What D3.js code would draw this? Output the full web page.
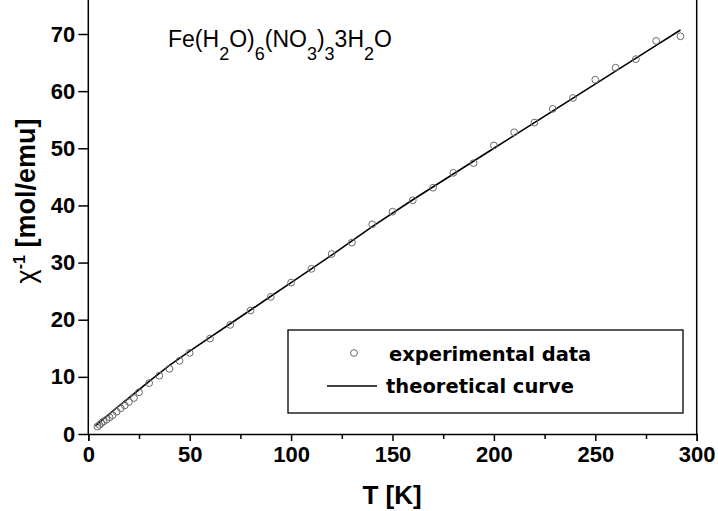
<!DOCTYPE html>
<html>
<head>
<meta charset="utf-8">
<script src="https://cdn.jsdelivr.net/npm/d3@7"></script>
<style>
  html, body { margin: 0; padding: 0; background: #fff; }
  svg { display: block; }
</style>
</head>
<body>
<svg id="chart" width="718" height="511"></svg>
<script>
// ---- data ----
const T_exp = [4.5, 5.5, 6.5, 7.5, 9, 10.5, 12, 14, 16, 18, 20, 22.5, 25, 30, 35, 40, 45, 50, 60, 70, 80, 90, 100, 110, 120, 130, 140, 150, 160, 170, 180, 190, 200, 210, 220, 229, 239, 250, 260, 270, 280, 292];
const chi_exp = [1.3, 1.6, 1.9, 2.2, 2.5, 2.9, 3.3, 3.9, 4.5, 5.0, 5.6, 6.3, 7.3, 8.9, 10.2, 11.4, 12.8, 14.2, 16.7, 19.1, 21.6, 24.0, 26.5, 28.9, 31.5, 33.5, 36.7, 38.9, 40.9, 43.1, 45.7, 47.4, 50.5, 52.8, 54.5, 56.9, 58.8, 62.0, 64.1, 65.6, 68.8, 69.6];
const T_theory = [3.5, 5, 10, 15, 20, 30, 40, 50, 60, 70, 80, 90, 100, 120, 140, 160, 180, 200, 220, 240, 260, 280, 292];
const chi_theory = [1.4, 1.9, 3.4, 4.9, 6.3, 9.2, 12.0, 14.5, 16.9, 19.3, 21.7, 24.1, 26.5, 31.3, 36.3, 41.0, 45.5, 50.0, 54.5, 59.0, 63.5, 68.0, 70.7];
const xTicks = [0, 50, 100, 150, 200, 250, 300];
const xMinorTicks = [25, 75, 125, 175, 225, 275];
const yTicks = [0, 10, 20, 30, 40, 50, 60, 70];
const legendLabels = ["experimental data", "theoretical curve"];

// ---- layout ----
const svg = d3.select("#chart");
const x = d3.scaleLinear().domain([0, 300]).range([88.3, 696.7]);
const y = d3.scaleLinear().domain([0, 70]).range([434, 34]);
const yTop = 0;

const tickFont = "'Liberation Sans', Arial, sans-serif";

// frame lines
svg.append("line").attr("x1", x(0)).attr("x2", x(0)).attr("y1", y(0)).attr("y2", yTop)
  .attr("stroke", "#000").attr("stroke-width", 1.5);
svg.append("line").attr("x1", x(300)).attr("x2", x(300)).attr("y1", y(0)).attr("y2", yTop)
  .attr("stroke", "#000").attr("stroke-width", 1.5);

// x axis
const gx = svg.append("g").attr("transform", `translate(0,${y(0)})`)
  .call(d3.axisBottom(x).tickValues(xTicks).tickSize(7).tickPadding(5).tickFormat(d3.format("d")));
gx.select(".domain").attr("stroke-width", 1.5);
gx.selectAll(".tick line").attr("stroke-width", 1.5);
gx.selectAll("text").attr("font-family", tickFont).attr("font-weight", "bold")
  .attr("font-size", 22).attr("fill", "#000");
svg.append("g").attr("transform", `translate(0,${y(0)})`)
  .call(d3.axisBottom(x).tickValues(xMinorTicks).tickSize(5).tickFormat(""))
  .call(g => g.select(".domain").remove())
  .selectAll(".tick line").attr("stroke-width", 1.5);

// y axis
const gy = svg.append("g").attr("transform", `translate(${x(0)},0)`)
  .call(d3.axisLeft(y).tickValues(yTicks).tickSize(10).tickPadding(3).tickFormat(d3.format("d")));
gy.select(".domain").remove();
gy.selectAll(".tick line").attr("stroke-width", 1.5);
gy.selectAll("text").attr("font-family", tickFont).attr("font-weight", "bold")
  .attr("font-size", 22).attr("fill", "#000");

// axis titles
svg.append("text").attr("x", 392).attr("y", 504).attr("text-anchor", "middle")
  .attr("font-family", tickFont).attr("font-weight", "bold").attr("font-size", 26)
  .text("T [K]");

const yt = svg.append("text").attr("transform", "translate(35,201) rotate(-90)")
  .attr("text-anchor", "middle").attr("font-family", tickFont).attr("font-weight", "bold")
  .attr("font-size", 27);
yt.append("tspan").attr("font-weight", "normal").text("χ");
yt.append("tspan").attr("font-size", 16).attr("dy", -10).text("-1");
yt.append("tspan").attr("dy", 10).text(" [mol/emu]");

// title with subscripts
const title = svg.append("text").attr("x", 168).attr("y", 47)
  .attr("font-family", tickFont).attr("font-size", 23);
const parts = [
  ["Fe(H", false, 0], ["2", true, 0], ["O)", false, 0], ["6", true, 0],
  ["(NO", false, 0], ["3", true, 0], [")", false, 0], ["3", true, 0],
  ["3H", false, 0], ["2", true, 0], ["O", false, 0]
];
let sub = false;
parts.forEach(([t, isSub, dx]) => {
  const ts = title.append("tspan").text(t).attr("dx", dx);
  if (isSub && !sub) ts.attr("dy", 13);
  if (!isSub && sub) ts.attr("dy", -13);
  if (isSub) ts.attr("font-size", 18);
  sub = isSub;
});

// theoretical curve
const lineData = T_theory.map((t, i) => [t, chi_theory[i]]);
svg.append("path").datum(lineData)
  .attr("d", d3.line().x(d => x(d[0])).y(d => y(d[1])))
  .attr("fill", "none").attr("stroke", "#000").attr("stroke-width", 1.6);

// experimental points
svg.append("g").selectAll("circle")
  .data(T_exp.map((t, i) => [t, chi_exp[i]]))
  .join("circle")
  .attr("cx", d => x(d[0])).attr("cy", d => y(d[1])).attr("r", 3.4)
  .attr("fill", "none").attr("stroke", "#6a6a6a").attr("stroke-width", 1);

// legend
const lg = svg.append("g");
lg.append("rect").attr("x", 288).attr("y", 330).attr("width", 395).attr("height", 83)
  .attr("fill", "#fff").attr("stroke", "#000").attr("stroke-width", 1.3);
lg.append("circle").attr("cx", 354).attr("cy", 353).attr("r", 3.4)
  .attr("fill", "none").attr("stroke", "#6a6a6a").attr("stroke-width", 1);
lg.append("line").attr("x1", 327).attr("x2", 377).attr("y1", 386).attr("y2", 386)
  .attr("stroke", "#000").attr("stroke-width", 1.4);
const legFont = "'DejaVu Sans', Verdana, sans-serif";
lg.append("text").attr("x", 389).attr("y", 361).attr("font-family", legFont)
  .attr("font-weight", "bold").attr("font-size", 19.5).text(legendLabels[0]);
lg.append("text").attr("x", 386).attr("y", 393).attr("font-family", legFont)
  .attr("font-weight", "bold").attr("font-size", 19.5).text(legendLabels[1]);
</script>
</body>
</html>
